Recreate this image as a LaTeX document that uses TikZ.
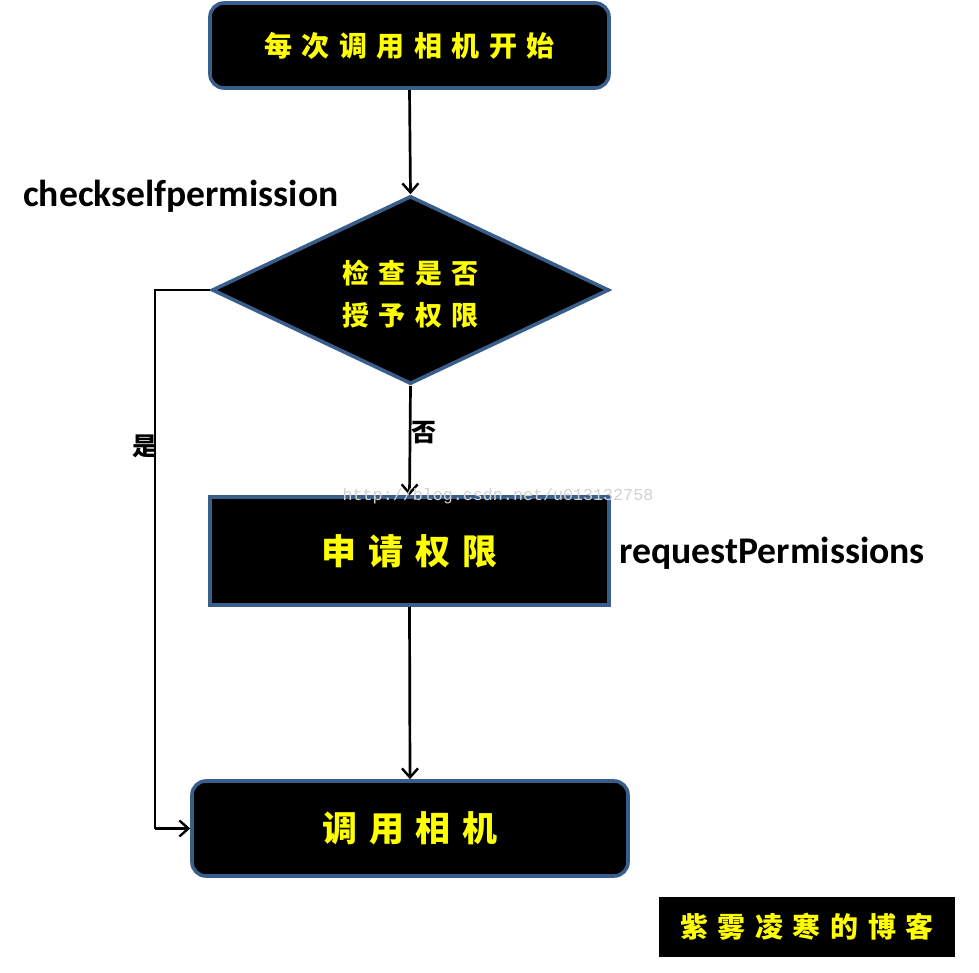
\documentclass[tikz,border=0pt]{standalone}
\usepackage{fontspec}
\setmainfont{Carlito}
\newfontfamily\cjk[LetterSpace=34]{Noto Sans CJK SC}
\newfontfamily\cjkplain{Noto Sans CJK SC}
\newfontfamily\wmfont{Liberation Mono}
\usetikzlibrary{arrows.meta,shapes.geometric}
\definecolor{edgeblue}{HTML}{3A5E8C}
\definecolor{txtyellow}{HTML}{FFFF00}
\tikzset{
  box/.style={draw=edgeblue, line width=3.6pt, fill=black, text=txtyellow, inner sep=0pt},
  conn/.style={draw=black, line width=2.7pt, -{Straight Barb[length=9pt,width=16pt,line width=2.4pt]}},
  line/.style={draw=black, line width=2.7pt},
  cjkmed/.style={font=\cjk\bfseries\fontsize{28}{28}\selectfont},
  cjkbig/.style={font=\cjk\bfseries\fontsize{35}{35}\selectfont},
  branch/.style={font=\cjkplain\bfseries\fontsize{25}{25}\selectfont, text=black},
}
\begin{document}
\begin{tikzpicture}[x=1pt,y=-1pt]
\useasboundingbox (0,0) rectangle (979,973);
% nodes
\node[box, cjkmed, rounded corners=14pt, minimum width=399pt, minimum height=85pt] (start) at (409.5,45.5)
  {每次调用相机开始};
\node[box, diamond, aspect=2.11, minimum width=397pt, minimum height=188pt] (check) at (410.5,290)
  {};
\node[text=txtyellow, align=center, font=\cjk\bfseries\fontsize{27}{42}\selectfont] (checktxt) at (410.5,294)
  {检查是否\\授予权限};
\node[box, cjkbig, minimum width=399pt, minimum height=108pt] (req) at (409.5,551)
  {申请权限};
\node[box, cjkbig, rounded corners=14pt, minimum width=436pt, minimum height=95pt] (cam) at (410,828.5)
  {调用相机};
% connectors
\draw[conn] (start.south) -- (check.north);
\draw[conn] (check.south) -- node[right, xshift=-3pt, yshift=8pt, branch] (no) {否} (req.north);
\draw[conn] (req.south) -- (cam.north);
\coordinate (lt) at (155,290);
\coordinate (lb) at (155,828.5);
\draw[line] (check.west) -- (lt) -- (lb);
\draw[conn] (lb) -- (cam.west);
\node[branch] (yes) at (145,446) {是};
% labels
\node[anchor=west, font=\bfseries\fontsize{37.6}{37.6}\selectfont, inner sep=0pt] (lbl1) at (23,196) {checkselfpermission};
\node[anchor=west, font=\bfseries\fontsize{37.7}{37.7}\selectfont, inner sep=0pt] (lbl2) at (619,553) {requestPermissions};
% watermark
\node[font=\wmfont\fontsize{16.7}{16.7}\selectfont, text=black!18, inner sep=0pt] (wm) at (498,496) {http://blog.csdn.net/u013132758};
% signature
\node[fill=black, text=txtyellow, cjkmed, minimum width=296pt, minimum height=60pt, inner sep=0pt] (sig) at (807,927)
  {紫雾凌寒的博客};
\end{tikzpicture}
\end{document}
